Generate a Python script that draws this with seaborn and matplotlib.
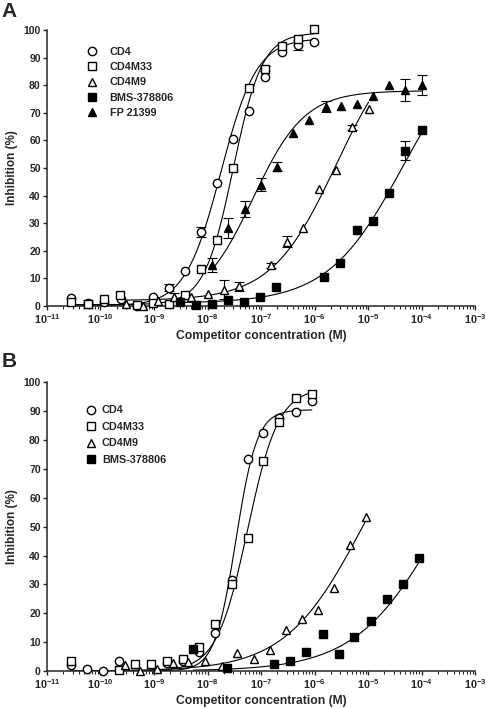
import numpy as np
import pandas as pd
import seaborn as sns
import matplotlib
matplotlib.use("Agg")
import matplotlib.pyplot as plt
from matplotlib.lines import Line2D
from matplotlib.ticker import LogLocator, NullFormatter

# panel A: log10 competitor concentration (M), % inhibition, error bar
a_cd4_logc = [-10.55, -10.23, -9.93, -9.62, -9.32, -9.02, -8.72, -8.42, -8.12, -7.82, -7.52, -7.22, -6.93, -6.61, -6.31, -6.01]
a_cd4_pct = [3.0, 1.0, 1.6, 2.4, 0.1, 3.1, 6.6, 12.7, 26.7, 44.5, 60.5, 70.8, 83.1, 91.9, 94.6, 95.5]
a_cd4_err = [0, 0, 0, 0, 0, 0, 1.2, 0, 1.8, 0, 0, 0, 0, 0, 1.8, 0]

a_m33_logc = [-10.55, -10.23, -9.93, -9.64, -9.32, -9.02, -8.72, -8.42, -8.12, -7.82, -7.52, -7.22, -6.93, -6.61, -6.31, -6.01]
a_m33_pct = [1.6, 0.6, 2.4, 4.0, 0.3, 1.0, 0.7, 4.0, 13.3, 23.9, 49.9, 79.1, 86.0, 94.3, 96.6, 100.2]
a_m33_err = [0, 1.5, 0, 0, 0, 0, 0, 0, 0, 0, 0, 0, 1.0, 0, 0, 0]

a_m9_logc = [-9.52, -9.21, -8.92, -8.62, -8.31, -8.00, -7.70, -7.41, -6.81, -6.51, -6.21, -5.91, -5.60, -5.29, -4.99]
a_m9_pct = [0.6, 0.0, 1.7, 3.3, 3.4, 4.5, 5.9, 7.1, 14.7, 23.2, 28.1, 42.3, 49.4, 64.7, 71.4]
a_m9_err = [0, 0, 0, 1.5, 0, 0, 3.5, 1.5, 1.0, 2.0, 0, 0, 0, 1.0, 0]

a_bms_logc = [-8.51, -8.22, -7.92, -7.62, -7.32, -7.02, -6.72, -5.83, -5.52, -5.21, -4.91, -4.61, -4.31, -4.00]
a_bms_pct = [1.5, 0.3, 0.6, 2.0, 1.6, 3.4, 7.0, 10.5, 15.7, 27.5, 30.8, 41.1, 56.3, 63.8]
a_bms_err = [0, 0, 0, 0, 0, 0, 0, 0, 0, 0, 0, 0, 3.5, 0]

a_fp_logc = [-7.91, -7.61, -7.30, -7.00, -6.71, -6.40, -6.10, -5.79, -5.51, -5.20, -4.90, -4.61, -4.30, -4.00]
a_fp_pct = [14.9, 28.3, 35.1, 44.0, 50.5, 62.8, 67.4, 72.2, 72.5, 73.1, 76.2, 80.1, 78.3, 80.1]
a_fp_err = [2.5, 3.5, 3.0, 2.5, 1.5, 0, 0, 2.0, 0, 0, 0, 0, 4.0, 3.5]

# panel B
b_cd4_logc = [-10.55, -10.26, -9.95, -9.65, -8.76, -8.46, -8.15, -7.86, -7.55, -7.25, -6.96, -6.66, -6.35, -6.05]
b_cd4_pct = [1.9, 0.6, 0.1, 3.5, 2.9, 3.3, 6.6, 13.1, 31.6, 73.6, 82.3, 87.7, 89.7, 93.4]

b_m33_logc = [-10.55, -9.65, -9.36, -9.06, -8.76, -8.46, -8.15, -7.86, -7.55, -7.25, -6.96, -6.66, -6.35, -6.05]
b_m33_pct = [3.6, 0.3, 2.4, 2.4, 3.6, 4.2, 8.2, 16.2, 30.0, 46.0, 72.8, 86.3, 94.4, 96.1]

b_m9_logc = [-9.54, -9.26, -8.95, -8.64, -8.36, -8.05, -7.73, -7.44, -7.14, -6.84, -6.54, -6.24, -5.94, -5.63, -5.34, -5.04]
b_m9_pct = [1.9, 0.1, 0.7, 2.7, 3.2, 3.6, 1.8, 6.1, 4.0, 7.3, 14.2, 17.9, 21.1, 28.6, 43.6, 53.4]

b_bms_logc = [-8.27, -7.64, -6.75, -6.46, -6.16, -5.85, -5.55, -5.26, -4.95, -4.65, -4.35, -4.05]
b_bms_pct = [7.6, 1.1, 2.4, 3.6, 6.7, 12.8, 5.9, 11.9, 17.3, 24.9, 30.0, 39.0]

# fitted curves (bottom, top, logEC50, hill)
a_cd4_fit = [0, 97, -7.75, 1.3]
a_m33_fit = [0.5, 99, -7.52, 1.6]
a_m9_fit = [2, 100, -5.6, 0.72]
a_bms_fit = [1, 100, -4.35, 0.62]
a_fp_fit = [0, 78, -7.15, 0.9]
b_cd4_fit = [0, 90.5, -7.47, 2.2]
b_m33_fit = [0, 98, -7.25, 1.5]
b_m9_fit = [0, 100, -5.1, 0.6]
b_bms_fit = [0, 100, -3.65, 0.55]

exponents = list(range(-11, -2))
yticks = list(range(0, 101, 10))

sns.set_style("ticks")
plt.rcParams["font.family"] = ["Liberation Sans", "DejaVu Sans"]
plt.rcParams["font.weight"] = "bold"
plt.rcParams["mathtext.fontset"] = "custom"
plt.rcParams["mathtext.rm"] = "Liberation Sans:bold"
plt.rcParams["mathtext.bf"] = "Liberation Sans:bold"

styles = {
    "CD4": dict(marker="o", mfc="white"),
    "CD4M33": dict(marker="s", mfc="white"),
    "CD4M9": dict(marker="^", mfc="white"),
    "BMS-378806": dict(marker="s", mfc="black"),
    "FP 21399": dict(marker="^", mfc="black"),
}
MS = 6.0


def logistic(logc, fit):
    bottom, top, logec50, hill = fit
    return bottom + (top - bottom) / (1 + 10 ** ((logec50 - logc) * hill))


def draw_panel(ax, series, leg_x, leg_y, textpad, spacing):
    for name, logc, pct, err, fit in series:
        st = styles[name]
        logc = np.array(logc)
        pct = np.array(pct)
        # smooth fitted curve
        grid = np.linspace(logc.min(), logc.max(), 300)
        curve = pd.DataFrame({"conc": 10 ** grid, "pct": logistic(grid, fit)})
        sns.lineplot(data=curve, x="conc", y="pct", color="black", lw=0.8, ax=ax, zorder=2)
        if err is not None:
            err = np.array(err)
            m = err > 0
            ax.errorbar(10 ** logc[m], pct[m], yerr=err[m], fmt="none", ecolor="black",
                        elinewidth=0.8, capsize=3.5, capthick=0.8, clip_on=False, zorder=3)
        ax.plot(10 ** logc, pct, ls="none", marker=st["marker"], ms=MS, mfc=st["mfc"],
                mec="black", mew=1.0, clip_on=False, zorder=4)

    ax.set_xscale("log")
    ax.set_xlim(10.0 ** exponents[0], 10.0 ** exponents[-1])
    ax.set_ylim(0, 100)
    ax.set_xticks([10.0 ** e for e in exponents])
    ax.set_xticklabels([rf"$\mathbf{{10^{{{e}}}}}$" for e in exponents])
    ax.xaxis.set_minor_locator(LogLocator(base=10, subs=np.arange(2, 10), numticks=20))
    ax.xaxis.set_minor_formatter(NullFormatter())
    ax.set_yticks(yticks)
    ax.tick_params(axis="both", which="major", length=3, width=1, pad=1.5, labelsize=7.8)
    ax.tick_params(axis="y", labelsize=7.5)
    ax.tick_params(axis="x", which="minor", length=1.8, width=0.8)
    for lab in ax.get_yticklabels():
        lab.set_fontweight("bold")
    for s in ["left", "bottom"]:
        ax.spines[s].set_linewidth(1.1)
    sns.despine(ax=ax)
    ax.set_xlabel("Competitor concentration (M)", fontsize=8.7, fontweight="bold", labelpad=3)
    ax.set_ylabel("Inhibition (%)", fontsize=8.5, fontweight="bold", labelpad=4)

    handles = [Line2D([], [], ls="none", marker=styles[s[0]]["marker"], ms=MS,
                      mfc=styles[s[0]]["mfc"], mec="black", mew=1.0) for s in series]
    ax.legend(handles, [s[0] for s in series], loc="upper left", bbox_to_anchor=(leg_x, leg_y),
              frameon=False, handlelength=1.0, handletextpad=textpad, labelspacing=spacing,
              borderpad=0, borderaxespad=0, prop={"size": 7.8, "weight": "bold"})


fig = plt.figure(figsize=(4.86, 7.08), dpi=100)
ax_a = fig.add_axes([0.0967, 0.5678, 0.8807, 0.3898])
ax_b = fig.add_axes([0.0967, 0.0523, 0.8807, 0.4077])

draw_panel(ax_a, [
    ("CD4", a_cd4_logc, a_cd4_pct, a_cd4_err, a_cd4_fit),
    ("CD4M33", a_m33_logc, a_m33_pct, a_m33_err, a_m33_fit),
    ("CD4M9", a_m9_logc, a_m9_pct, a_m9_err, a_m9_fit),
    ("BMS-378806", a_bms_logc, a_bms_pct, a_bms_err, a_bms_fit),
    ("FP 21399", a_fp_logc, a_fp_pct, a_fp_err, a_fp_fit),
], 0.093, 0.94, 1.1, 0.5)

draw_panel(ax_b, [
    ("CD4", b_cd4_logc, b_cd4_pct, None, b_cd4_fit),
    ("CD4M33", b_m33_logc, b_m33_pct, None, b_m33_fit),
    ("CD4M9", b_m9_logc, b_m9_pct, None, b_m9_fit),
    ("BMS-378806", b_bms_logc, b_bms_pct, None, b_bms_fit),
], 0.09, 0.92, 0.5, 0.6)

fig.text(0.004, 0.997, "A", fontsize=15, fontweight="bold", va="top", ha="left")
fig.text(0.004, 0.503, "B", fontsize=15, fontweight="bold", va="top", ha="left")

fig.savefig("out.png", dpi=100)
